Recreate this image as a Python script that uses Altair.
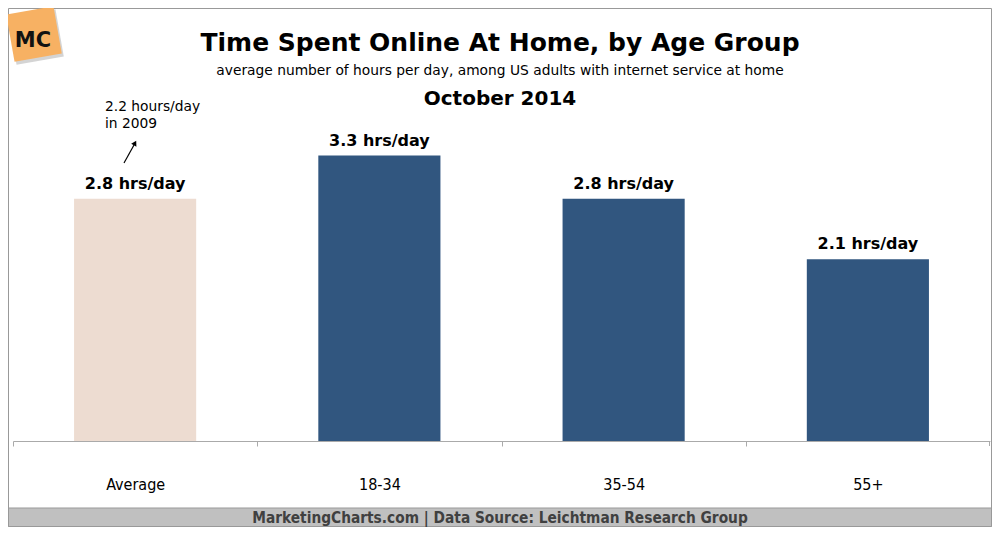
import altair as alt
import pandas as pd

categories = ["Average", "18-34", "35-54", "55+"]
values = [2.8, 3.3, 2.8, 2.1]
labels = ["2.8 hrs/day", "3.3 hrs/day", "2.8 hrs/day", "2.1 hrs/day"]
kinds = ["avg", "grp", "grp", "grp"]

title_text = ["Time Spent Online At Home, by Age Group"]
subtitle_text = ["average number of hours per day, among US adults with internet service at home"]
period_text = ["October 2014"]
note_lines = ["2.2 hours/day", "in 2009"]
footer_text = ["MarketingCharts.com | Data Source: Leichtman Research Group"]

df = pd.DataFrame({"cat": categories, "val": values, "lab": labels, "kind": kinds})

W, H = 977, 346
STEP = W / 4
FONT = "DejaVu Sans, Verdana, sans-serif"
COND = "DejaVu Sans Condensed, Liberation Sans Narrow, sans-serif"

x = alt.X("cat:N", sort=categories, title=None,
          scale=alt.Scale(paddingInner=0.5, paddingOuter=0.25),
          axis=alt.Axis(labelAngle=0, domainColor="#aaaaaa", tickColor="#aaaaaa",
                        tickSize=5, tickOffset=-STEP / 2, labelOffset=STEP / 2, labelPadding=30,
                        labelFont=COND, labelFontSize=16, labelColor="#000000",
                        labelBaseline="top"))
y = alt.Y("val:Q", scale=alt.Scale(domain=[0, 4], nice=False), axis=None)

base = alt.Chart(df)
bars = base.mark_bar().encode(
    x=x, y=y,
    color=alt.Color("kind:N", scale=alt.Scale(domain=["avg", "grp"], range=["#eddcd1", "#31567f"]), legend=None),
)
bar_labels = base.mark_text(dy=-15, fontWeight="bold", fontSize=16, font=FONT, color="#000000").encode(
    x=alt.X("cat:N", sort=categories), y=alt.Y("val:Q"), text="lab:N")

def txt(lines, xs, ys, **kw):
    d = pd.DataFrame({"t": lines, "xx": xs, "yy": ys})
    return alt.Chart(d).mark_text(**kw).encode(
        x=alt.X("xx:Q", scale=None, axis=None), y=alt.Y("yy:Q", scale=None, axis=None), text="t:N")

title = txt(title_text, [487], [-52], font=FONT, fontSize=25, fontWeight="bold", color="#000000")
subtitle = txt(subtitle_text, [487], [-24], font=FONT, fontSize=13.8, color="#000000")
period = txt(period_text, [487], [4], font=FONT, fontSize=20, fontWeight="bold", color="#000000")
note = txt(note_lines, [92, 92], [12, 29], font=FONT, fontSize=13.8, align="left", color="#000000")

one = pd.DataFrame({"a": [0]})
arrow_line = alt.Chart(one).mark_rule(color="#000000", strokeWidth=1.2).encode(
    x=alt.value(111), y=alt.value(68), x2=alt.value(121), y2=alt.value(50))
arrow_head = alt.Chart(one).mark_point(shape="triangle-up", filled=True, color="#000000",
                                        size=35, angle=28, opacity=1).encode(
    x=alt.value(122), y=alt.value(48))
end_tick = alt.Chart(one).mark_rule(color="#aaaaaa", strokeWidth=1).encode(
    x=alt.value(W - 0.5), y=alt.value(H), y2=alt.value(H + 5))

frame = alt.Chart(one).mark_rect(fill=None, stroke="#999999", strokeWidth=1).encode(
    x=alt.value(-4.5), x2=alt.value(978.5), y=alt.value(-86.5), y2=alt.value(431.5))
footer_band = alt.Chart(one).mark_rect(fill="#c0c0c0", stroke="#999999").encode(
    x=alt.value(-4.5), x2=alt.value(978.5), y=alt.value(413), y2=alt.value(431.5))
footer = txt(footer_text, [487], [423], font=COND, fontSize=15.3, fontWeight="bold", color="#404040")

logo_shadow = alt.Chart(one).mark_square(filled=True, color="#b8b8b8", size=2300, angle=350, opacity=0.6).encode(
    x=alt.value(23), y=alt.value(-58))
logo = alt.Chart(one).mark_square(filled=True, color="#f7b163", size=2300, angle=350, opacity=1).encode(
    x=alt.value(21), y=alt.value(-61))
logo_text = txt(["MC"], [20], [-54], font=FONT, fontSize=21, fontWeight="bold", color="#111111")

chart = alt.layer(
    frame, footer_band, footer, logo_shadow, logo, logo_text,
    bars, bar_labels, title, subtitle, period, note, arrow_line, arrow_head, end_tick,
).properties(
    width=W, height=H,
    background="#ffffff",
    autosize=alt.AutoSizeParams(type="none"),
    padding={"left": 5, "top": 87, "right": 2, "bottom": 86},
).configure_view(stroke=None)

chart.save("out.html", embed_options={"renderer": "svg", "actions": False})
